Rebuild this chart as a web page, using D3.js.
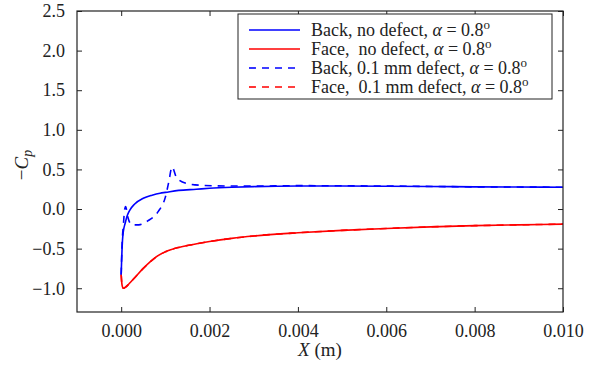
<!DOCTYPE html>
<html><head><meta charset="utf-8">
<script src="https://cdn.jsdelivr.net/npm/d3@7"></script>
<style>body{margin:0;background:#fff}svg{display:block}</style>
</head><body>
<script>
const xTicks = [0, 0.002, 0.004, 0.006, 0.008, 0.010];
const yTicks = [-1.0, -0.5, 0.0, 0.5, 1.0, 1.5, 2.0, 2.5];

const backNoDefectX = [0, 0.00001, 0.00002, 0.00003, 0.00005, 0.00009, 0.00014, 0.0002, 0.0003, 0.0005, 0.0007, 0.00088, 0.0010, 0.0013, 0.0017, 0.0020, 0.0025, 0.0030, 0.0040, 0.0050, 0.0060, 0.0070, 0.0080, 0.0090, 0.0100];
const backNoDefectY = [-0.83, -0.65, -0.50, -0.39, -0.28, -0.18, -0.08, -0.01, 0.06, 0.135, 0.175, 0.20, 0.21, 0.235, 0.25, 0.262, 0.275, 0.283, 0.29, 0.29, 0.288, 0.285, 0.28, 0.278, 0.275];

const faceNoDefectX = [0, 0.00001, 0.00002, 0.00004, 0.00006, 0.0001, 0.00015, 0.0002, 0.0003, 0.0005, 0.00066, 0.0008, 0.0010, 0.0013, 0.0016, 0.0020, 0.0025, 0.0030, 0.0040, 0.0050, 0.0060, 0.0070, 0.0080, 0.0090, 0.0100];
const faceNoDefectY = [-0.83, -0.91, -0.96, -0.995, -1.0, -0.985, -0.96, -0.93, -0.87, -0.75, -0.665, -0.60, -0.54, -0.485, -0.45, -0.41, -0.37, -0.34, -0.30, -0.27, -0.245, -0.225, -0.21, -0.20, -0.19];

const backDefectX = [0, 0.00002, 0.00005, 0.00008, 0.0001, 0.00015, 0.00024, 0.0004, 0.0006, 0.00084, 0.0010, 0.00108, 0.00115, 0.00126, 0.0015, 0.0018, 0.0025, 0.0030, 0.0040, 0.0060, 0.0080, 0.0100];
const backDefectY = [-0.83, -0.45, -0.20, 0.0, 0.03, -0.10, -0.20, -0.20, -0.15, -0.03, 0.15, 0.35, 0.53, 0.39, 0.32, 0.30, 0.29, 0.29, 0.295, 0.29, 0.28, 0.275];

const faceDefectX = faceNoDefectX;
const faceDefectY = [-0.83, -0.91, -0.96, -0.995, -1.0, -0.985, -0.96, -0.93, -0.87, -0.75, -0.665, -0.60, -0.54, -0.485, -0.45, -0.41, -0.37, -0.34, -0.30, -0.27, -0.245, -0.225, -0.21, -0.20, -0.19];

const legendLabels = [
  ["Back, no defect, ", "α", " = 0.8", "o"],
  ["Face,  no defect, ", "α", " = 0.8", "o"],
  ["Back, 0.1 mm defect, ", "α", " = 0.8", "o"],
  ["Face,  0.1 mm defect, ", "α", " = 0.8", "o"]
];

const FONT = "Liberation Serif";
const FS = 18;
const W = 597, H = 375;
const m = {l: 77, r: 34, t: 11, b: 63};
const svg = d3.select("body").append("svg").attr("width", W).attr("height", H);
const x = d3.scaleLinear().domain([-0.001, 0.010]).range([m.l, W - m.r]);
const y = d3.scaleLinear().domain([-1.3, 2.5]).range([H - m.b, m.t]);

const series = [
  {xs: backNoDefectX, ys: backNoDefectY, color: "#0000ff", dash: null},
  {xs: faceNoDefectX, ys: faceNoDefectY, color: "#ff0000", dash: null},
  {xs: backDefectX, ys: backDefectY, color: "#0000ff", dash: "7,6"},
  {xs: faceDefectX, ys: faceDefectY, color: "#ff0000", dash: "7,6"}
];

const line = d3.line().x(d => x(d[0])).y(d => y(d[1])).curve(d3.curveMonotoneX);
svg.append("clipPath").attr("id", "c").append("rect")
  .attr("x", m.l).attr("y", m.t).attr("width", W - m.r - m.l).attr("height", H - m.b - m.t);
const g = svg.append("g").attr("clip-path", "url(#c)");
series.forEach(s => {
  g.append("path").datum(s.xs.map((v, i) => [v, s.ys[i]]))
    .attr("d", line).attr("fill", "none").attr("stroke", s.color)
    .attr("stroke-width", 1.6).attr("stroke-dasharray", s.dash);
});

const fmtX = d3.format(".3f"), fmtY = d => d3.format(".1f")(d).replace("-", "\u2212");
const axB = svg.append("g").attr("transform", `translate(0,${H - m.b})`)
  .call(d3.axisBottom(x).tickValues(xTicks).tickSize(-5).tickPadding(12).tickFormat(fmtX));
const axT = svg.append("g").attr("transform", `translate(0,${m.t})`)
  .call(d3.axisTop(x).tickValues(xTicks).tickSize(-5).tickFormat(""));
const axL = svg.append("g").attr("transform", `translate(${m.l},0)`)
  .call(d3.axisLeft(y).tickValues(yTicks).tickSize(-5).tickPadding(12).tickFormat(fmtY));
const axR = svg.append("g").attr("transform", `translate(${W - m.r},0)`)
  .call(d3.axisRight(y).tickValues(yTicks).tickSize(-5).tickFormat(""));
[axB, axT, axL, axR].forEach(a => {
  a.select(".domain").remove();
  a.selectAll("line").attr("stroke", "#222");
  a.selectAll("text").attr("fill", "#222").attr("font-size", FS);
});
svg.append("rect").attr("x", m.l).attr("y", m.t).attr("width", W - m.r - m.l).attr("height", H - m.b - m.t)
  .attr("fill", "none").attr("stroke", "#222").attr("stroke-width", 1.2);

const xt = svg.append("text").attr("x", (m.l + W - m.r) / 2).attr("y", 356).attr("text-anchor", "middle")
  .attr("font-size", 19).attr("fill", "#222");
xt.append("tspan").attr("font-style", "italic").text("X");
xt.append("tspan").text(" (m)");
const yt = svg.append("text").attr("transform", "translate(28,165) rotate(-90)").attr("text-anchor", "middle")
  .attr("font-size", 19).attr("fill", "#222");
yt.append("tspan").text("\u2212");
yt.append("tspan").attr("font-style", "italic").text("C");
yt.append("tspan").attr("font-style", "italic").attr("font-size", 14).attr("dy", 4).text("p");

const lg = svg.append("g");
lg.append("rect").attr("x", 238).attr("y", 14).attr("width", 314).attr("height", 85)
  .attr("fill", "#fff").attr("stroke", "#222").attr("stroke-width", 1);
legendLabels.forEach((lab, i) => {
  const yy = 30 + i * 19;
  const s = series[i];
  lg.append("line").attr("x1", 249).attr("x2", 300).attr("y1", yy).attr("y2", yy)
    .attr("stroke", s.color).attr("stroke-width", 1.6).attr("stroke-dasharray", s.dash);
  const t = lg.append("text").attr("x", 311).attr("y", yy + 6).attr("font-size", FS).attr("fill", "#222")
    .style("white-space", "pre");
  t.append("tspan").text(lab[0]);
  t.append("tspan").attr("font-style", "italic").text(lab[1]);
  t.append("tspan").text(lab[2]);
  t.append("tspan").attr("font-size", 13).attr("dy", -7).text(lab[3]);
});
svg.selectAll("text, tspan").attr("font-family", FONT).style("font-family", FONT);
</script>
</body></html>
